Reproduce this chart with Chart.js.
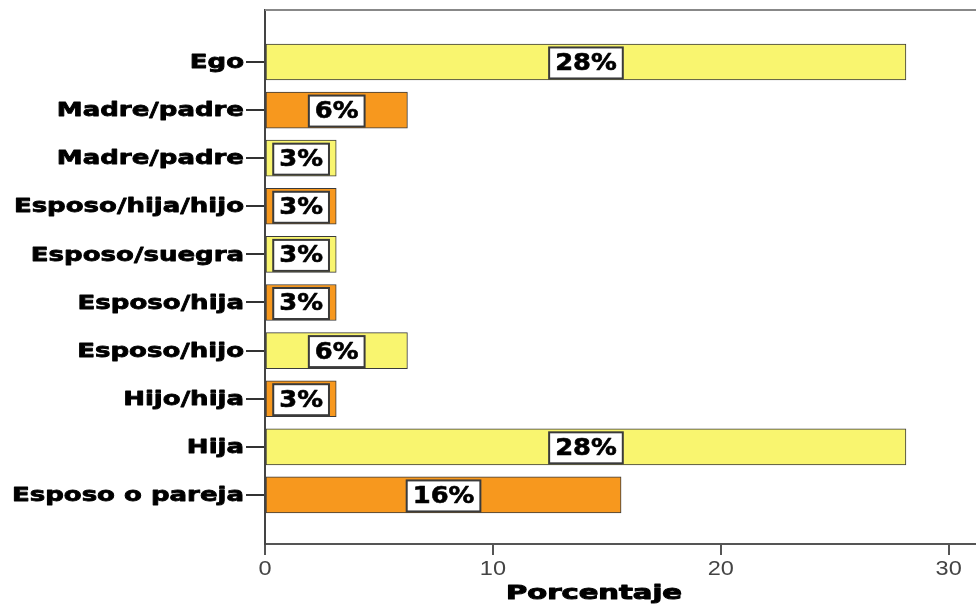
<!DOCTYPE html>
<html>
<head>
<meta charset="utf-8">
<script src="https://cdn.jsdelivr.net/npm/chart.js@4.4.1/dist/chart.umd.min.js"></script>
<style>
  html, body { margin: 0; padding: 0; background: #fff; }
  #wrap { width: 976px; height: 605px; }
</style>
</head>
<body>
<div id="wrap"><canvas id="chart" width="976" height="605"></canvas></div>
<script>
// --- data ---
const categories = ['Ego', 'Madre/padre', 'Madre/padre', 'Esposo/hija/hijo', 'Esposo/suegra',
                    'Esposo/hija', 'Esposo/hijo', 'Hijo/hija', 'Hija', 'Esposo o pareja'];
const percentages = [28.125, 6.25, 3.125, 3.125, 3.125, 3.125, 6.25, 3.125, 28.125, 15.625];
const barColors = ['#F9F56F', '#F7981E', '#F9F56F', '#F7981E', '#F9F56F',
                   '#F7981E', '#F9F56F', '#F7981E', '#F9F56F', '#F7981E'];
const xTicks = [0, 10, 20, 30];
const xTitle = 'Porcentaje';

// stretched text helper (the original render is wide and heavy)
function wideText(ctx, txt, x, y, font, sx, align, color, heavy) {
    ctx.save();
    ctx.font = font;
    ctx.fillStyle = color;
    ctx.textAlign = align;
    ctx.textBaseline = 'middle';
    ctx.translate(x, y);
    ctx.scale(sx, 1);
    ctx.fillText(txt, 0, 0);
    if (heavy) {
        ctx.strokeStyle = color;
        ctx.lineWidth = heavy;
        ctx.lineJoin = 'round';
        ctx.strokeText(txt, 0, 0);
    }
    ctx.restore();
}

// --- plugins ---
const frameTop = {
    id: 'frameTop',
    afterDraw(chart) {
        const { ctx, chartArea } = chart;
        ctx.save();
        ctx.strokeStyle = '#888';
        ctx.lineWidth = 2;
        ctx.beginPath();
        ctx.moveTo(chartArea.left, chartArea.top);
        ctx.lineTo(chartArea.right, chartArea.top);
        ctx.stroke();
        ctx.restore();
    }
};

const barLabels = {
    id: 'barLabels',
    afterDatasetsDraw(chart) {
        const ctx = chart.ctx;
        const meta = chart.getDatasetMeta(0);
        const font = 'bold 23px "DejaVu Sans"';
        const sx = 1.12;
        meta.data.forEach((bar, i) => {
            const txt = Math.round(percentages[i]) + '%';
            const cx = (bar.x + bar.base) / 2;
            const cy = bar.y + 1;
            ctx.save();
            ctx.font = font;
            const w = ctx.measureText(txt).width * sx + 12;
            const h = 31;
            ctx.fillStyle = '#fff';
            ctx.fillRect(cx - w / 2, cy - h / 2, w, h);
            ctx.strokeStyle = '#3a3a3a';
            ctx.lineWidth = 2;
            ctx.strokeRect(cx - w / 2, cy - h / 2, w, h);
            ctx.restore();
            wideText(ctx, txt, cx, cy + 1, font, sx, 'center', '#000', 0.6);
        });
    }
};

const axisText = {
    id: 'axisText',
    afterDraw(chart) {
        const ctx = chart.ctx;
        const ys = chart.scales.y, xs = chart.scales.x;
        categories.forEach((c, i) => {
            wideText(ctx, c, 244, ys.getPixelForValue(i) + 1, 'bold 20px "DejaVu Sans"', 1.3, 'right', '#000', 0.8);
        });
        xTicks.forEach(v => {
            wideText(ctx, String(v), xs.getPixelForValue(v), 569, '21px "Liberation Sans"', 1.12, 'center', '#444');
        });
        wideText(ctx, xTitle, 594, 594, 'bold 20px "DejaVu Sans"', 1.45, 'center', '#000', 1);
    }
};

// --- chart ---
new Chart(document.getElementById('chart'), {
    type: 'bar',
    data: {
        datasets: [{
            data: categories.map((c, i) => ({ x: percentages[i], y: i })),
            backgroundColor: barColors,
            borderColor: '#3a3a3a',
            borderWidth: 1,
            borderSkipped: false,
            barThickness: 36
        }]
    },
    options: {
        indexAxis: 'y',
        responsive: false,
        animation: false,
        devicePixelRatio: 1,
        layout: { padding: { top: 10, left: 0, right: 0, bottom: 0 } },
        plugins: { legend: { display: false }, tooltip: { enabled: false }, title: { display: false } },
        scales: {
            x: {
                type: 'linear', min: 0, max: 31.2, position: 'bottom', offset: false, bounds: 'data',
                afterBuildTicks: s => { s.ticks = xTicks.map(v => ({ value: v })); },
                afterFit: s => { s.height = 61; },
                ticks: { display: false },
                grid: { drawOnChartArea: false, offset: false, tickLength: 11, color: '#555', lineWidth: 2 },
                border: { color: '#555', width: 2 }
            },
            y: {
                type: 'linear', min: -1.08, max: 10.02, reverse: true, offset: false, bounds: 'data',
                afterBuildTicks: s => { s.ticks = categories.map((c, i) => ({ value: i })); },
                afterFit: s => { s.width = 265; },
                ticks: { display: false },
                grid: { drawOnChartArea: false, offset: false, tickLength: 19, color: '#333', lineWidth: 2 },
                border: { color: '#444', width: 2 }
            }
        }
    },
    plugins: [frameTop, barLabels, axisText]
});
</script>
</body>
</html>
